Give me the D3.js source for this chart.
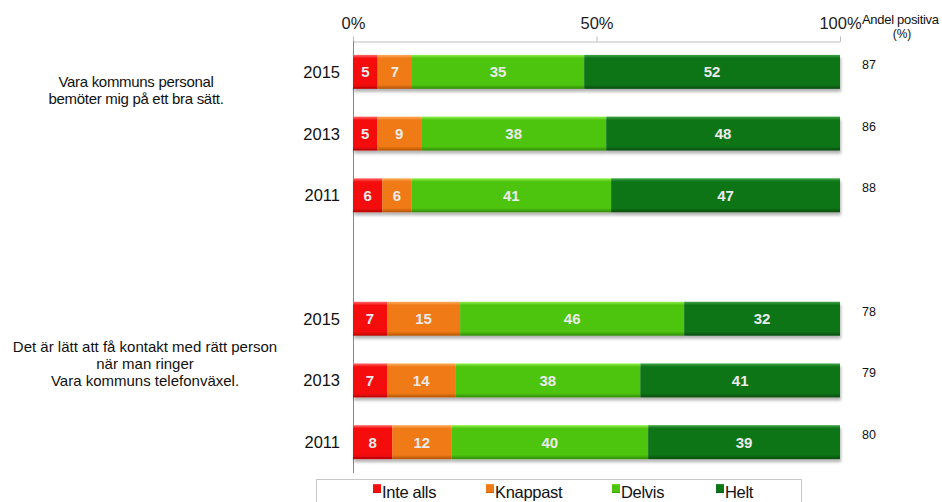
<!DOCTYPE html>
<html><head><meta charset="utf-8">
<script src="https://cdn.jsdelivr.net/npm/d3@7"></script>
<style>body{margin:0;background:#fff;font-family:"Liberation Sans",Arial,sans-serif}</style>
</head><body><svg id="c" width="942" height="502"></svg>
<script>
const years = ["2015","2013","2011"];
const questions = [
  ["Vara kommuns personal","bemöter mig på ett bra sätt."],
  ["Det är lätt att få kontakt med rätt person","när man ringer","Vara kommuns telefonväxel."]
];
const seriesNames = ["Inte alls","Knappast","Delvis","Helt"];
const inteAlls = [5,5,6,7,7,8];
const knappast = [7,9,6,15,14,12];
const delvis = [35,38,41,46,38,40];
const helt = [52,48,47,32,41,39];
const andelPositiva = [87,86,88,78,79,80];
const tickValues = [0,50,100];

const colors = ["#f50f0f","#ef7a16","#4ec40c","#0c7518"];
const lights = ["#ff6a6a","#ffae5e","#8ff04a","#3fa547"];
const darks  = ["#b80000","#b25200","#2f8a05","#064a0c"];

const rows = [];
for (let i=0;i<6;i++){
  rows.push({key:"r"+(i<3?i:i+1), q:i<3?0:1, year:years[i%3], vals:[inteAlls[i],knappast[i],delvis[i],helt[i]], pos:andelPositiva[i]});
}
const domain = ["r0","r1","r2","r3","r4","r5","r6"];

const svg = d3.select("#c");
const defs = svg.append("defs");
colors.forEach((c,i)=>{
  const g = defs.append("linearGradient").attr("id","g"+i).attr("x1",0).attr("x2",0).attr("y1",0).attr("y2",1);
  g.append("stop").attr("offset","0%").attr("stop-color",lights[i]);
  g.append("stop").attr("offset","10%").attr("stop-color",c);
  g.append("stop").attr("offset","88%").attr("stop-color",c);
  g.append("stop").attr("offset","100%").attr("stop-color",darks[i]);
});
const f = defs.append("filter").attr("id","sh").attr("x","-5%").attr("y","-20%").attr("width","110%").attr("height","160%");
f.append("feDropShadow").attr("dx",1).attr("dy",3).attr("stdDeviation",1.5).attr("flood-color","#000").attr("flood-opacity",0.3);

const x = d3.scaleLinear().domain([0,100]).range([353,840]);
const y = d3.scaleBand().domain(domain).range([41,473]).paddingInner(0.45).paddingOuter(0.225);

// axis
const ax = svg.append("g").attr("transform","translate(0,41.5)")
  .call(d3.axisTop(x).tickValues(tickValues).tickFormat(d=>d+"%").tickSize(5).tickSizeOuter(0).tickPadding(8));
ax.select(".domain").attr("stroke","#bcbcbc");
ax.selectAll(".tick line").attr("stroke","#bcbcbc");
ax.selectAll(".tick text").attr("font-size",16.5).attr("fill","#222").attr("font-family","Liberation Sans, Arial");

svg.append("line").attr("x1",353.5).attr("x2",353.5).attr("y1",41).attr("y2",473).attr("stroke","#888");

// bars
rows.forEach(r=>{
  const total = d3.sum(r.vals);
  let acc = 0;
  const g = svg.append("g").attr("filter","url(#sh)");
  const segs = r.vals.map((v,i)=>{const s={i,v,x0:acc/total*100,x1:(acc+v)/total*100}; acc+=v; return s;});
  g.selectAll("rect").data(segs).join("rect")
    .attr("x",d=>x(d.x0)).attr("width",d=>x(d.x1)-x(d.x0))
    .attr("y",y(r.key)).attr("height",y.bandwidth())
    .attr("fill",d=>"url(#g"+d.i+")");
  svg.selectAll(null).data(segs).join("text")
    .attr("x",d=>(x(d.x0)+x(d.x1))/2).attr("y",y(r.key)+y.bandwidth()/2+5.5)
    .attr("text-anchor","middle").attr("font-size",15).attr("font-weight","bold")
    .attr("fill","#ececec").text(d=>d.v);
  svg.append("text").attr("x",340).attr("y",y(r.key)+y.bandwidth()/2+6)
    .attr("text-anchor","end").attr("font-size",16.5).attr("fill","#111").text(r.year);
  svg.append("text").attr("x",869).attr("y",y(r.key)+y.bandwidth()/2-3)
    .attr("text-anchor","middle").attr("font-size",12.5).attr("fill","#111").text(r.pos);
});

// question labels
const qStart = [86.5, 352];
const qCenter = [136, 145];
const qSpacing = [-0.3, 0];
questions.forEach((lines,q)=>{
  const t = svg.append("text").attr("text-anchor","middle").attr("font-size",15).attr("fill","#111").attr("letter-spacing",qSpacing[q]);
  lines.forEach((l,i)=>t.append("tspan").attr("x",qCenter[q]).attr("y",qStart[q]+i*17).text(l));
});

// header
svg.append("text").attr("x",862).attr("y",24).attr("font-size",13).attr("fill","#111").attr("letter-spacing",-0.3).text("Andel positiva");
svg.append("text").attr("x",902).attr("y",38).attr("text-anchor","middle").attr("font-size",12).attr("fill","#111").text("(%)");

// legend
svg.append("rect").attr("x",316.5).attr("y",479.5).attr("width",485).attr("height",30).attr("fill","#fff").attr("stroke","#c8c8c8");
const lx = [373,486,612,716];
seriesNames.forEach((n,i)=>{
  svg.append("rect").attr("x",lx[i]).attr("y",484).attr("width",8).attr("height",9).attr("fill","url(#g"+i+")");
  svg.append("text").attr("x",lx[i]+9).attr("y",498).attr("font-size",16.5).attr("fill","#111").attr("letter-spacing",-0.3).text(n);
});
</script></body></html>
